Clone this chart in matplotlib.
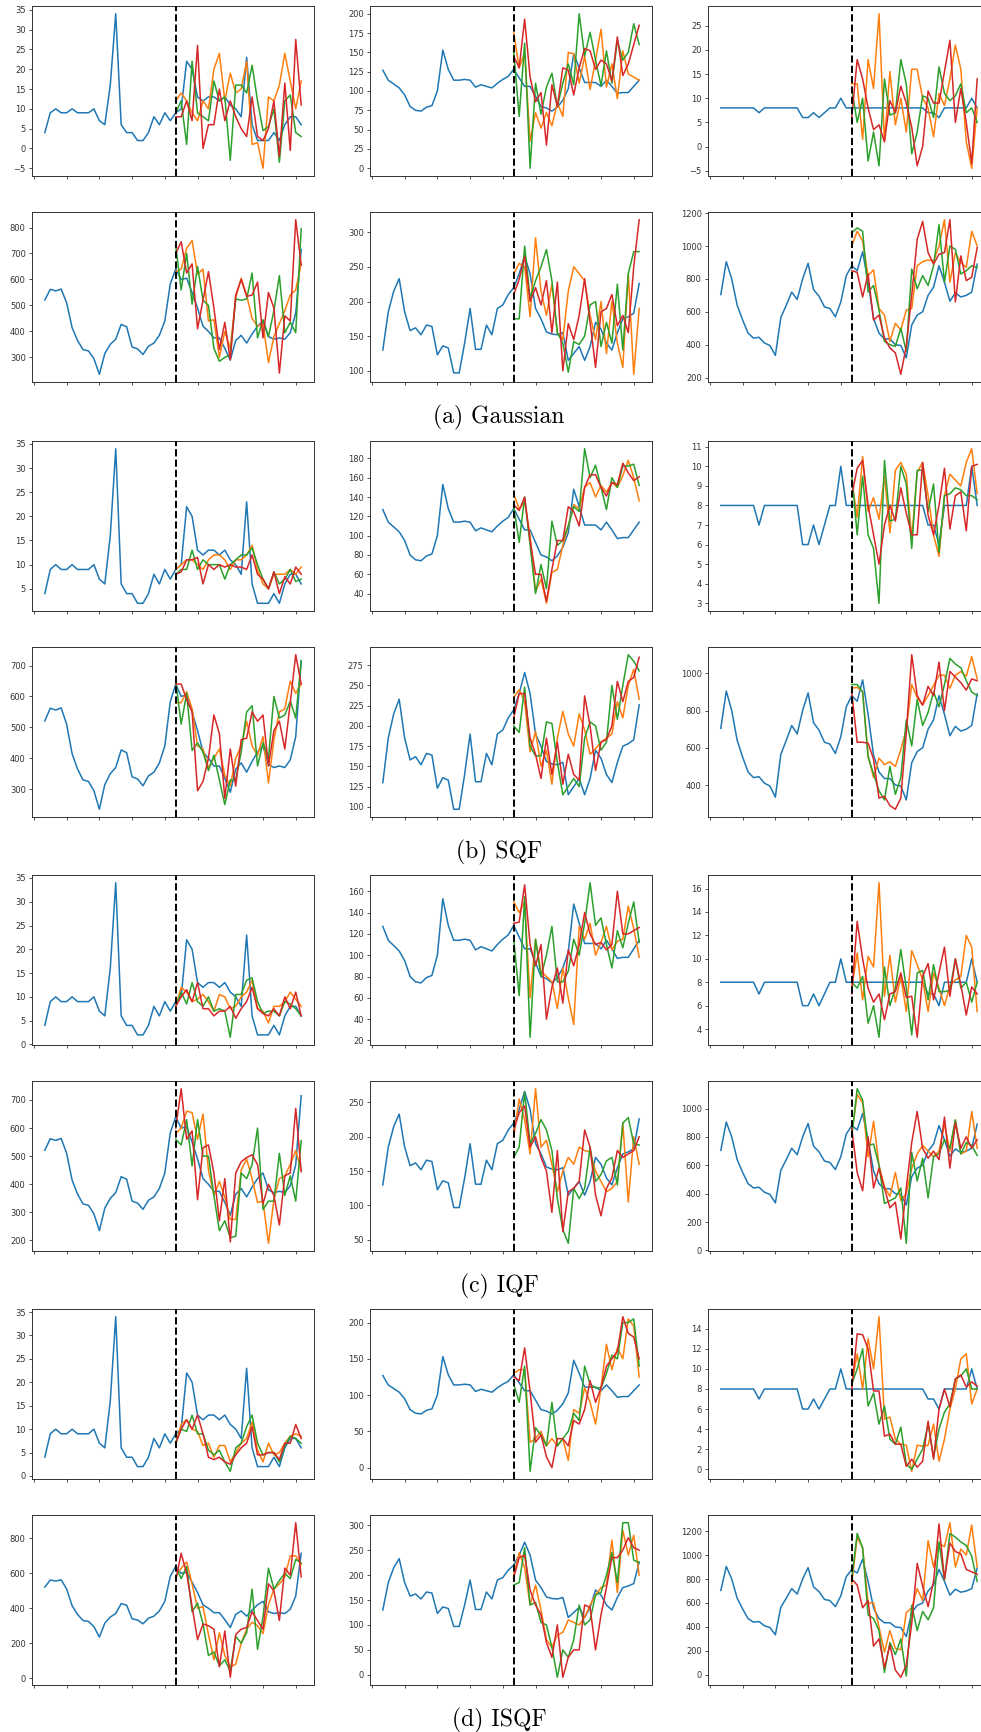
import numpy as np
import matplotlib.pyplot as plt
from matplotlib.ticker import MaxNLocator

# ground truth (history + future), one per panel position
truth_1 = [4, 9, 10, 9, 9, 10, 9, 9, 9, 10, 7, 6, 16, 34, 6, 4, 4, 2, 2, 4, 8, 6, 9, 7,
           9, 10, 22, 20, 13, 12, 13, 13, 12, 13, 11, 10, 8, 23, 6, 2, 2, 2, 4, 2, 6, 8, 8, 6]
truth_2 = [127, 114, 109, 104, 95, 80, 75, 74, 79, 81, 100, 153, 128, 114, 114, 115, 114, 105, 108, 106, 104, 110, 115, 119,
           128, 117, 106, 106, 93, 80, 78, 74, 79, 88, 103, 148, 130, 111, 111, 111, 106, 114, 106, 97, 98, 98, 106, 114]
truth_3 = [8, 8, 8, 8, 8, 8, 8, 7, 8, 8, 8, 8, 8, 8, 8, 6, 6, 7, 6, 7, 8, 8, 10, 8,
           8, 8, 8, 8, 8, 8, 8, 8, 8, 8, 8, 8, 8, 8, 7, 7, 6, 8, 8, 8, 8, 8, 10, 8]
truth_4 = [521, 562, 556, 563, 510, 415, 365, 330, 325, 295, 235, 315, 350, 370, 427, 418, 340, 333, 311, 343, 355, 385, 440, 583,
           640, 600, 605, 550, 490, 420, 400, 375, 375, 335, 290, 365, 385, 355, 390, 420, 440, 380, 370, 375, 370, 395, 470, 715]
truth_5 = [130, 185, 215, 233, 185, 158, 162, 152, 166, 164, 123, 136, 133, 97, 97, 140, 190, 131, 131, 166, 152, 190, 195, 210,
           220, 240, 266, 240, 190, 175, 156, 153, 152, 155, 115, 125, 135, 115, 135, 170, 160, 140, 130, 155, 175, 178, 183, 226]
truth_6 = [705, 905, 800, 640, 550, 470, 440, 445, 410, 395, 335, 565, 640, 720, 675, 800, 895, 735, 695, 630, 620, 570, 660, 820,
           880, 850, 965, 780, 560, 470, 435, 435, 400, 395, 320, 520, 580, 600, 700, 750, 880, 780, 665, 715, 690, 700, 720, 890]

# (a) Gaussian samples
a1_orange = [12, 14, 12, 9, 7, 12, 10, 20, 24, 12, 19, 14, 15, 22, 1, 1.5, -5, 13, 12, 16, 24, 17, 10, 17]
a1_green = [9, 12, 1, 22, 9, 8, 7, 17, 12, 13, -3, 16, 16, 14, 21, 12, 4.5, 5.5, 10, -3.5, 12, 13.5, 4, 3]
a1_red = [8, 8, 12, 7, 26, 0, 6, 6, 15, 7, 12, 8, 5, 3, 13, 3, 2, 5, 12, -2, 16.5, -0.5, 27.5, 11]
a2_orange = [175, 130, 150, 35, 72, 52, 72, 55, 85, 67, 150, 148, 110, 145, 102, 140, 180, 105, 135, 90, 152, 122, 118, 114]
a2_green = [150, 67, 162, 0, 110, 70, 105, 123, 80, 110, 135, 108, 200, 145, 176, 140, 107, 152, 110, 165, 140, 150, 187, 160]
a2_red = [145, 130, 193, 118, 86, 98, 30, 108, 80, 130, 127, 95, 130, 155, 152, 128, 140, 135, 113, 170, 120, 135, 160, 185]
a3_orange = [13, 13, 1.5, 18, 12, 27.5, 1, 15.5, 4.5, 10, 3, 16, 16, 10, 8, 2, 11, 8.5, 14, 21, 16, 1, -4.5, 8]
a3_green = [12, 5, 10, -3, 3, -4, 14, 6.5, 7, 18, 13, -1.5, 3, 10.5, 10, 6, 16.5, 11, 9.5, 10.5, 13, 7, 8, 5]
a3_red = [6, 18, 14, 8, 3.5, 4.5, 1, 9.5, 7, 12.5, 9, 4, -4, 0, 11.5, 9, 9, 15.5, 22, 5, 12, 5, -3.5, 14]
a4_orange = [630, 640, 720, 750, 620, 640, 440, 445, 300, 400, 335, 530, 605, 540, 450, 420, 430, 280, 380, 430, 480, 540, 560, 660]
a4_green = [730, 560, 700, 505, 650, 520, 500, 335, 285, 300, 310, 525, 520, 525, 625, 375, 445, 380, 480, 615, 395, 435, 395, 795]
a4_red = [700, 745, 625, 660, 410, 520, 630, 490, 330, 435, 290, 540, 600, 535, 540, 590, 375, 550, 490, 240, 460, 440, 830, 655]
a5_orange = [240, 255, 250, 178, 292, 215, 180, 225, 155, 145, 215, 250, 240, 230, 180, 145, 200, 125, 200, 140, 105, 240, 95, 190]
a5_green = [175, 175, 280, 205, 230, 250, 275, 230, 155, 140, 98, 142, 138, 150, 195, 200, 135, 170, 140, 225, 130, 240, 272, 272]
a5_red = [210, 232, 265, 200, 220, 195, 230, 155, 228, 100, 168, 145, 180, 233, 170, 105, 185, 190, 210, 165, 180, 155, 250, 318]
a6_orange = [1000, 1090, 1030, 820, 855, 620, 580, 420, 530, 490, 610, 620, 880, 905, 915, 910, 1000, 1160, 780, 960, 900, 870, 1090, 1000]
a6_green = [1080, 1110, 1090, 720, 760, 610, 420, 400, 390, 500, 360, 860, 740, 820, 760, 880, 1130, 780, 1000, 980, 830, 850, 880, 870]
a6_red = [850, 840, 690, 830, 550, 580, 440, 380, 350, 220, 390, 700, 1040, 1150, 960, 890, 950, 960, 1160, 660, 940, 790, 810, 990]

# (b) SQF samples
b1_orange = [9, 10, 11, 11, 10, 9, 11, 12, 12, 11, 9, 11, 11, 12, 14, 9, 6, 5, 8, 8, 8, 9, 8, 9.5]
b1_green = [8, 9, 9, 13, 9, 11, 10, 10, 10, 7, 10, 11, 12, 12, 13.5, 10, 7, 5, 8.5, 6, 7, 9, 6.5, 7]
b1_red = [8, 8.5, 11, 11, 11.5, 6, 10, 9, 10, 9.5, 10, 9.5, 9.5, 9, 12, 8, 7, 5, 8.5, 4, 7.5, 6, 9.5, 8]
b2_orange = [143, 128, 135, 100, 42, 55, 30, 62, 65, 90, 110, 132, 128, 150, 155, 140, 152, 145, 155, 150, 162, 178, 160, 136]
b2_green = [130, 93, 140, 90, 40, 70, 45, 115, 90, 95, 110, 130, 125, 190, 160, 173, 150, 127, 160, 150, 172, 172, 174, 152]
b2_red = [132, 126, 140, 95, 60, 60, 32, 65, 95, 95, 130, 125, 110, 150, 163, 163, 150, 141, 155, 153, 175, 165, 157, 161]
b3_orange = [9.3, 7.4, 10.5, 7.7, 8.4, 7.3, 9.5, 6.6, 9.8, 10.2, 9.6, 6.3, 9.7, 10.2, 8.5, 6.5, 5.4, 8.5, 9.6, 9.3, 9.0, 10.2, 10.9, 8.6]
b3_green = [9.6, 6.5, 9.5, 6.5, 5.8, 3.0, 10.3, 7.2, 7.3, 10.0, 9.1, 5.8, 9.8, 9.8, 7.7, 9.1, 5.6, 8.5, 8.6, 8.9, 8.8, 8.5, 8.5, 8.3]
b3_red = [8.5, 9.9, 10.3, 8.0, 6.5, 5.0, 7.0, 8.0, 7.2, 8.9, 7.6, 6.5, 6.5, 10.2, 7.5, 6.5, 8.0, 9.9, 6.8, 8.5, 8.7, 6.7, 10.0, 10.1]
b4_orange = [580, 580, 615, 560, 440, 430, 370, 400, 430, 345, 310, 400, 440, 520, 440, 410, 470, 320, 460, 550, 560, 650, 610, 640]
b4_green = [650, 510, 610, 425, 450, 420, 360, 410, 330, 250, 330, 330, 420, 550, 570, 375, 450, 400, 600, 530, 540, 585, 530, 715]
b4_red = [640, 640, 590, 550, 295, 325, 400, 540, 480, 270, 430, 310, 460, 465, 550, 520, 540, 375, 490, 520, 430, 580, 735, 640]
b5_orange = [235, 245, 230, 168, 193, 150, 170, 128, 185, 218, 190, 175, 215, 195, 165, 172, 180, 185, 190, 230, 210, 250, 270, 233]
b5_green = [200, 192, 248, 175, 163, 163, 205, 203, 155, 115, 125, 135, 125, 185, 205, 200, 170, 180, 250, 208, 250, 288, 280, 268]
b5_red = [210, 240, 240, 185, 165, 135, 185, 140, 180, 128, 165, 140, 133, 237, 200, 145, 180, 183, 200, 255, 230, 255, 260, 285]
b6_orange = [920, 925, 900, 560, 440, 545, 510, 525, 500, 590, 700, 940, 870, 830, 880, 935, 990, 990, 920, 990, 1010, 985, 1090, 970]
b6_green = [940, 940, 900, 550, 460, 370, 320, 500, 350, 440, 750, 610, 860, 720, 790, 900, 820, 940, 1080, 1050, 1030, 960, 900, 880]
b6_red = [900, 630, 630, 625, 540, 330, 340, 290, 270, 330, 680, 1100, 880, 830, 930, 880, 1060, 800, 1010, 980, 950, 910, 970, 960]

# (c) IQF samples
c1_orange = [8, 12, 11, 9, 9.5, 10.5, 9, 7, 10.5, 10, 7.5, 8, 10, 11, 13.5, 7.5, 7, 4.5, 8, 8, 9, 11, 9.5, 8]
c1_green = [8, 11, 8.5, 13, 9, 8, 10, 7, 7.5, 7, 1.5, 10.5, 10.5, 13.5, 14, 9, 6.5, 7, 7, 6, 9, 8.5, 7.5, 6]
c1_red = [8, 10, 11.5, 9, 13, 7.5, 7.5, 6, 7, 7, 8, 5.5, 7.5, 9, 12, 7.5, 6.5, 6, 7.5, 6, 10, 7.5, 11, 6]
c2_orange = [150, 140, 150, 60, 115, 85, 80, 75, 50, 88, 60, 35, 127, 115, 130, 100, 112, 127, 105, 113, 115, 146, 125, 98]
c2_green = [115, 62, 155, 23, 115, 80, 100, 127, 75, 75, 85, 115, 100, 130, 168, 128, 135, 110, 88, 123, 107, 130, 150, 112]
c2_red = [130, 131, 166, 110, 90, 110, 40, 70, 88, 55, 105, 90, 110, 140, 120, 110, 112, 105, 110, 160, 120, 120, 123, 126]
c3_orange = [7.5, 10.5, 6.5, 10.2, 9.3, 16.5, 6.8, 10.3, 6.3, 8.5, 5.5, 10.7, 9.5, 8.2, 5.5, 8.8, 7.5, 6, 7.7, 8.2, 8.5, 12, 11, 5.5]
c3_green = [8, 7.5, 8.5, 4.5, 6, 3.3, 9.3, 6, 7.5, 10.8, 7.5, 3.5, 8.8, 9, 6.5, 9.5, 7.2, 7.2, 7.3, 10, 7.5, 8, 6.3, 8]
c3_red = [7, 13.2, 10, 7.5, 6.3, 7, 4.8, 7, 7.2, 8.8, 6.7, 6.8, 3.3, 8.5, 9.6, 6.5, 8.8, 11, 6.8, 10, 7.8, 5.2, 7.6, 7]
c4_orange = [580, 600, 660, 655, 560, 650, 450, 360, 410, 355, 275, 275, 450, 490, 420, 335, 340, 190, 345, 420, 430, 470, 520, 450]
c4_green = [560, 540, 630, 465, 630, 500, 500, 360, 235, 270, 210, 215, 440, 420, 470, 600, 310, 340, 340, 510, 360, 430, 340, 555]
c4_red = [600, 740, 560, 590, 345, 530, 540, 440, 270, 420, 195, 440, 480, 495, 505, 470, 330, 400, 360, 255, 430, 440, 670, 445]
c5_orange = [200, 255, 225, 175, 270, 185, 195, 160, 120, 150, 170, 160, 185, 180, 178, 150, 135, 120, 125, 135, 220, 105, 200, 160]
c5_green = [170, 185, 265, 190, 205, 225, 210, 180, 110, 65, 45, 125, 110, 125, 185, 135, 145, 165, 170, 130, 220, 228, 190, 188]
c5_red = [210, 235, 245, 185, 200, 170, 150, 90, 180, 62, 120, 125, 135, 210, 185, 115, 85, 125, 140, 180, 170, 175, 180, 200]
c6_orange = [820, 1100, 1040, 660, 910, 600, 450, 380, 550, 350, 400, 580, 680, 740, 700, 660, 700, 890, 700, 920, 680, 700, 980, 720]
c6_green = [800, 1140, 1060, 740, 750, 600, 330, 350, 370, 440, 50, 690, 490, 650, 370, 660, 680, 780, 720, 920, 680, 760, 740, 670]
c6_red = [860, 550, 420, 800, 440, 580, 440, 300, 340, 80, 440, 760, 980, 720, 650, 700, 640, 940, 580, 900, 720, 800, 720, 780]

# (d) ISQF samples
d1_orange = [7, 11, 12, 10, 9.5, 6.5, 7, 4, 6.5, 6.5, 3, 5, 7, 8, 11.5, 5.5, 3, 7, 4.5, 5, 7, 8.5, 9, 8.5]
d1_green = [7, 10, 9.5, 13, 9, 9, 5.5, 4.5, 5.5, 3, 1, 6, 7, 10.5, 13, 7, 4.5, 5, 5, 3, 6.5, 8.5, 8, 7]
d1_red = [7, 10, 12, 10, 13, 9, 4, 3.5, 4, 3, 2.5, 4.5, 6, 7, 10.5, 4.5, 4.5, 5, 5, 3.5, 7, 7, 11, 8]
d2_orange = [130, 135, 135, 35, 40, 50, 30, 40, 30, 40, 10, 80, 75, 110, 90, 60, 110, 170, 135, 165, 150, 205, 195, 125]
d2_green = [115, 90, 140, -5, 55, 45, 30, 90, 30, 40, 50, 75, 65, 140, 115, 110, 110, 130, 155, 150, 200, 200, 205, 140]
d2_red = [125, 120, 165, 105, 35, 45, 15, 0, 40, 40, 30, 65, 60, 80, 120, 90, 110, 140, 150, 160, 208, 185, 180, 150]
d3_orange = [8.5, 11.5, 8, 13, 10, 15.2, 5, 5.2, 3, 2.5, 2.4, -0.2, 2.4, 2.3, 2.4, 4.5, 0.8, 3, 6, 8, 11, 11.5, 6.5, 8]
d3_green = [8.5, 10, 12, 6.3, 7.6, 4.5, 6.3, 3, 2.5, 4.2, 0.5, 0, 1, 2, 4.5, 1.2, 4, 5.7, 6.5, 9, 9.3, 10, 8, 8]
d3_red = [8, 13.5, 13.4, 12, 7.8, 7.8, 3.3, 3.5, 2.5, 2.5, 0.3, 1, 0.2, 0.8, 4.8, 1, 6, 8, 6.2, 9, 9.4, 8.2, 8.7, 8.3]
d4_orange = [580, 630, 665, 540, 400, 410, 250, 105, 260, 130, 65, 80, 200, 280, 320, 300, 255, 420, 510, 540, 580, 700, 700, 650]
d4_green = [640, 570, 640, 380, 430, 310, 130, 150, 70, 105, 40, 240, 200, 260, 510, 165, 350, 630, 510, 560, 600, 570, 680, 660]
d4_red = [560, 715, 600, 410, 220, 310, 300, 280, 65, 270, 5, 250, 280, 290, 380, 330, 280, 540, 500, 330, 630, 590, 890, 580]
d5_orange = [200, 245, 215, 140, 180, 130, 70, 55, 80, 85, 110, 105, 100, 115, 140, 160, 175, 180, 270, 165, 290, 240, 280, 200]
d5_green = [180, 185, 255, 140, 145, 105, 100, 55, -5, 50, 35, 70, 140, 100, 110, 160, 165, 200, 245, 185, 305, 305, 230, 225]
d5_red = [195, 235, 240, 170, 140, 120, 65, 35, 100, -5, 35, 50, 50, 140, 135, 50, 120, 175, 235, 235, 250, 275, 255, 250]
d6_orange = [760, 1150, 1060, 600, 600, 400, 190, 370, 220, 210, 520, 560, 720, 620, 1120, 900, 1100, 1070, 1270, 900, 1050, 1000, 1250, 900]
d6_green = [800, 1180, 1060, 500, 470, 370, 20, 270, 170, 300, -10, 580, 370, 530, 460, 560, 1110, 790, 1180, 1150, 1110, 1080, 990, 780]
d6_red = [800, 750, 560, 620, 240, 300, 60, 250, 40, -20, 80, 430, 930, 740, 570, 780, 1260, 800, 1100, 1030, 1010, 880, 860, 840]

captions = ['(a) Gaussian', '(b) SQF', '(c) IQF', '(d) ISQF']
truths = [truth_1, truth_2, truth_3, truth_4, truth_5, truth_6]
samples = {
    0: [(a1_orange, a1_green, a1_red), (a2_orange, a2_green, a2_red), (a3_orange, a3_green, a3_red),
        (a4_orange, a4_green, a4_red), (a5_orange, a5_green, a5_red), (a6_orange, a6_green, a6_red)],
    1: [(b1_orange, b1_green, b1_red), (b2_orange, b2_green, b2_red), (b3_orange, b3_green, b3_red),
        (b4_orange, b4_green, b4_red), (b5_orange, b5_green, b5_red), (b6_orange, b6_green, b6_red)],
    2: [(c1_orange, c1_green, c1_red), (c2_orange, c2_green, c2_red), (c3_orange, c3_green, c3_red),
        (c4_orange, c4_green, c4_red), (c5_orange, c5_green, c5_red), (c6_orange, c6_green, c6_red)],
    3: [(d1_orange, d1_green, d1_red), (d2_orange, d2_green, d2_red), (d3_orange, d3_green, d3_red),
        (d4_orange, d4_green, d4_red), (d5_orange, d5_green, d5_red), (d6_orange, d6_green, d6_red)],
}

start = 24  # first forecast step
W, H = 981, 1732
fig = plt.figure(figsize=(W / 100, H / 100), dpi=100)

col_left = [32, 370, 708]
ax_w = 282
ax_h = 170
group_top = [6, 441, 875, 1309]
row_off = [0, 206]
cap_off = 411

for g in range(4):
    for p in range(6):
        r, c = divmod(p, 3)
        top = group_top[g] + row_off[r]
        ax = fig.add_axes([col_left[c] / W, 1 - (top + ax_h) / H, ax_w / W, ax_h / H])
        y = truths[p]
        ax.plot(np.arange(len(y)), y, color='C0', lw=1.1)
        for s, col in zip(samples[g][p], ['C1', 'C2', 'C3']):
            ax.plot(np.arange(start, start + len(s)), s, color=col, lw=1.1)
        ax.axvline(start, color='k', ls='--', lw=1.4, zorder=5)
        ax.set_xticks(np.arange(-2, 48, 6))
        ax.set_xticklabels([])
        ax.yaxis.set_major_locator(MaxNLocator(nbins=9, steps=[1, 2, 2.5, 5, 10]))
        ax.tick_params(labelsize=6, length=2.5, pad=2, colors='#333333', width=0.6)
        for sp in ax.spines.values():
            sp.set_color('#333333')
            sp.set_linewidth(0.7)
    fig.text(499 / W, 1 - (group_top[g] + cap_off) / H, captions[g],
             ha='center', va='center', fontsize=17, family='cmr10')

fig.savefig('out.png', dpi=100)
